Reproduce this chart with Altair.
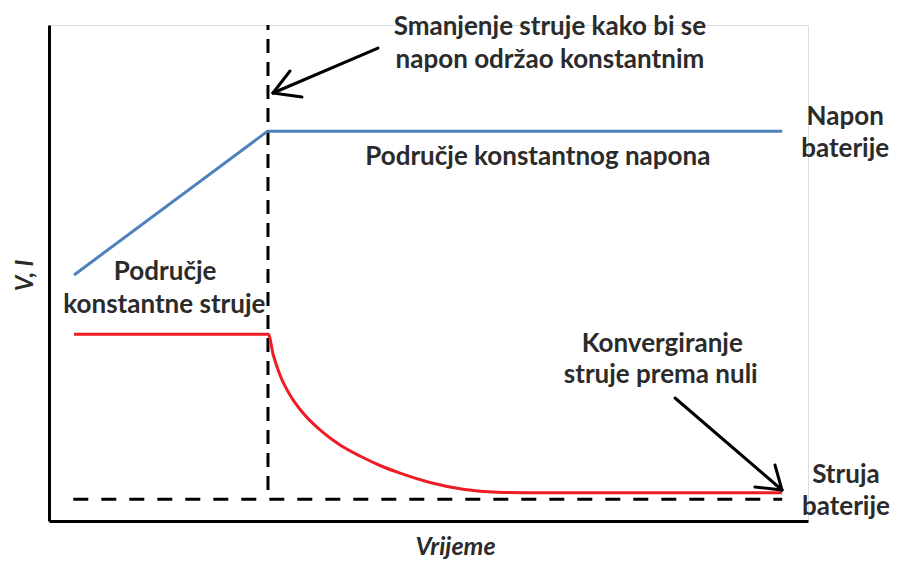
import altair as alt
import pandas as pd

# ---- series (time and value as % of the axis range) ----
v_time = [3.3, 28.8, 96.6]
v_value = [49.6, 78.6, 78.6]

i_time = [3.3, 28.89, 29.55, 30.43, 31.75, 33.50, 35.70, 38.34, 40.97, 43.61,
          46.25, 50.20, 54.55, 59.03, 64.69, 96.57]
i_value = [37.64, 37.64, 33.47, 29.44, 25.40, 21.71, 18.35, 15.32, 13.10, 11.19,
           9.64, 7.76, 6.39, 5.81, 5.71, 5.71]

# reference lines: switch-over time and zero-current level
switch_time = 28.85
switch_span = [6.25, 100.0]
zero_level = 4.4
zero_span = [3.2, 96.6]

# annotations
labels = ["Smanjenje struje kako bi se", "napon održao konstantnim",
          "Napon", "baterije",
          "Područje konstantnog napona",
          "Područje", "konstantne struje",
          "Konvergiranje", "struje prema nuli",
          "Struja", "baterije"]
label_x = [66.0, 66.0, 104.9, 104.9, 64.4, 15.3, 15.2, 80.8, 80.6, 105.0, 105.0]
label_y = [97.98, 91.33, 79.84, 73.39, 71.77, 48.59, 41.94, 34.07, 27.82, 7.66, 1.21]

# arrows: (x, y) -> (x2, y2) segments
arrow_x = [43.35, 29.51, 29.51, 82.48, 96.57, 96.57]
arrow_y = [95.36, 86.29, 86.29, 24.80, 6.25, 6.25]
arrow_x2 = [29.51, 31.75, 33.33, 96.57, 95.65, 93.02]
arrow_y2 = [86.29, 90.73, 85.48, 6.25, 11.29, 6.85]

v_df = pd.DataFrame({"t": v_time, "val": v_value, "order": list(range(len(v_time)))})
i_df = pd.DataFrame({"t": i_time, "val": i_value, "order": list(range(len(i_time)))})
texts = pd.DataFrame({"label": labels, "x": label_x, "y": label_y})
arrows = pd.DataFrame({"x": arrow_x, "y": arrow_y, "x2": arrow_x2, "y2": arrow_y2})
vline = pd.DataFrame({"x": [switch_time], "y": [switch_span[0]], "y2": [switch_span[1]]})
hline = pd.DataFrame({"y": [zero_level], "x": [zero_span[0]], "x2": [zero_span[1]]})

xs = alt.Scale(domain=[0, 100], nice=False, zero=False)
ys = alt.Scale(domain=[0, 100], nice=False, zero=False)

FONT = "Lato"
TEXT_COLOR = "#2b2b2b"

x_axis = alt.Axis(title="Vrijeme", ticks=False, labels=False, grid=False,
                  domainColor="black", domainWidth=3,
                  titleFont=FONT, titleFontSize=25, titleFontWeight="bold",
                  titleFontStyle="italic", titleColor=TEXT_COLOR,
                  titlePadding=13, titleX=406)
y_axis = alt.Axis(title="V, I", ticks=False, labels=False, grid=False,
                  domainColor="black", domainWidth=3,
                  titleFont=FONT, titleFontSize=24, titleFontWeight="bold",
                  titleFontStyle="italic", titleColor=TEXT_COLOR,
                  titlePadding=12, titleY=250)

v_line = alt.Chart(v_df).mark_line(strokeWidth=3, color="#4f81bd").encode(
    x=alt.X("t:Q", scale=xs, axis=x_axis),
    y=alt.Y("val:Q", scale=ys, axis=y_axis),
    order="order:Q",
)
i_line = alt.Chart(i_df).mark_line(strokeWidth=3, color="#ee1c25",
                                   interpolate="monotone").encode(
    x=alt.X("t:Q", scale=xs),
    y=alt.Y("val:Q", scale=ys),
    order="order:Q",
)

v_rule = alt.Chart(vline).mark_rule(color="black", strokeWidth=3, strokeDash=[14, 9]).encode(
    x=alt.X("x:Q", scale=xs), y=alt.Y("y:Q", scale=ys), y2="y2:Q")
h_rule = alt.Chart(hline).mark_rule(color="black", strokeWidth=3, strokeDash=[15, 13]).encode(
    y=alt.Y("y:Q", scale=ys), x=alt.X("x:Q", scale=xs), x2="x2:Q")

arrow_rules = alt.Chart(arrows).mark_rule(color="black", strokeWidth=3, strokeCap="round").encode(
    x=alt.X("x:Q", scale=xs), y=alt.Y("y:Q", scale=ys), x2="x2:Q", y2="y2:Q")

text_layer = alt.Chart(texts).mark_text(font=FONT, fontSize=26, fontWeight="bold",
                                        color=TEXT_COLOR, align="center",
                                        baseline="alphabetic").encode(
    x=alt.X("x:Q", scale=xs), y=alt.Y("y:Q", scale=ys), text="label:N")

chart = alt.layer(h_rule, v_rule, v_line, i_line, arrow_rules, text_layer).properties(
    width=759, height=496,
    autosize=alt.AutoSizeParams(type="none"),
    padding={"left": 41, "top": 17, "right": 85, "bottom": 38},
).configure_view(strokeWidth=0).configure(background="white")

chart.save("out.html", embed_options={"renderer": "svg", "actions": False})
